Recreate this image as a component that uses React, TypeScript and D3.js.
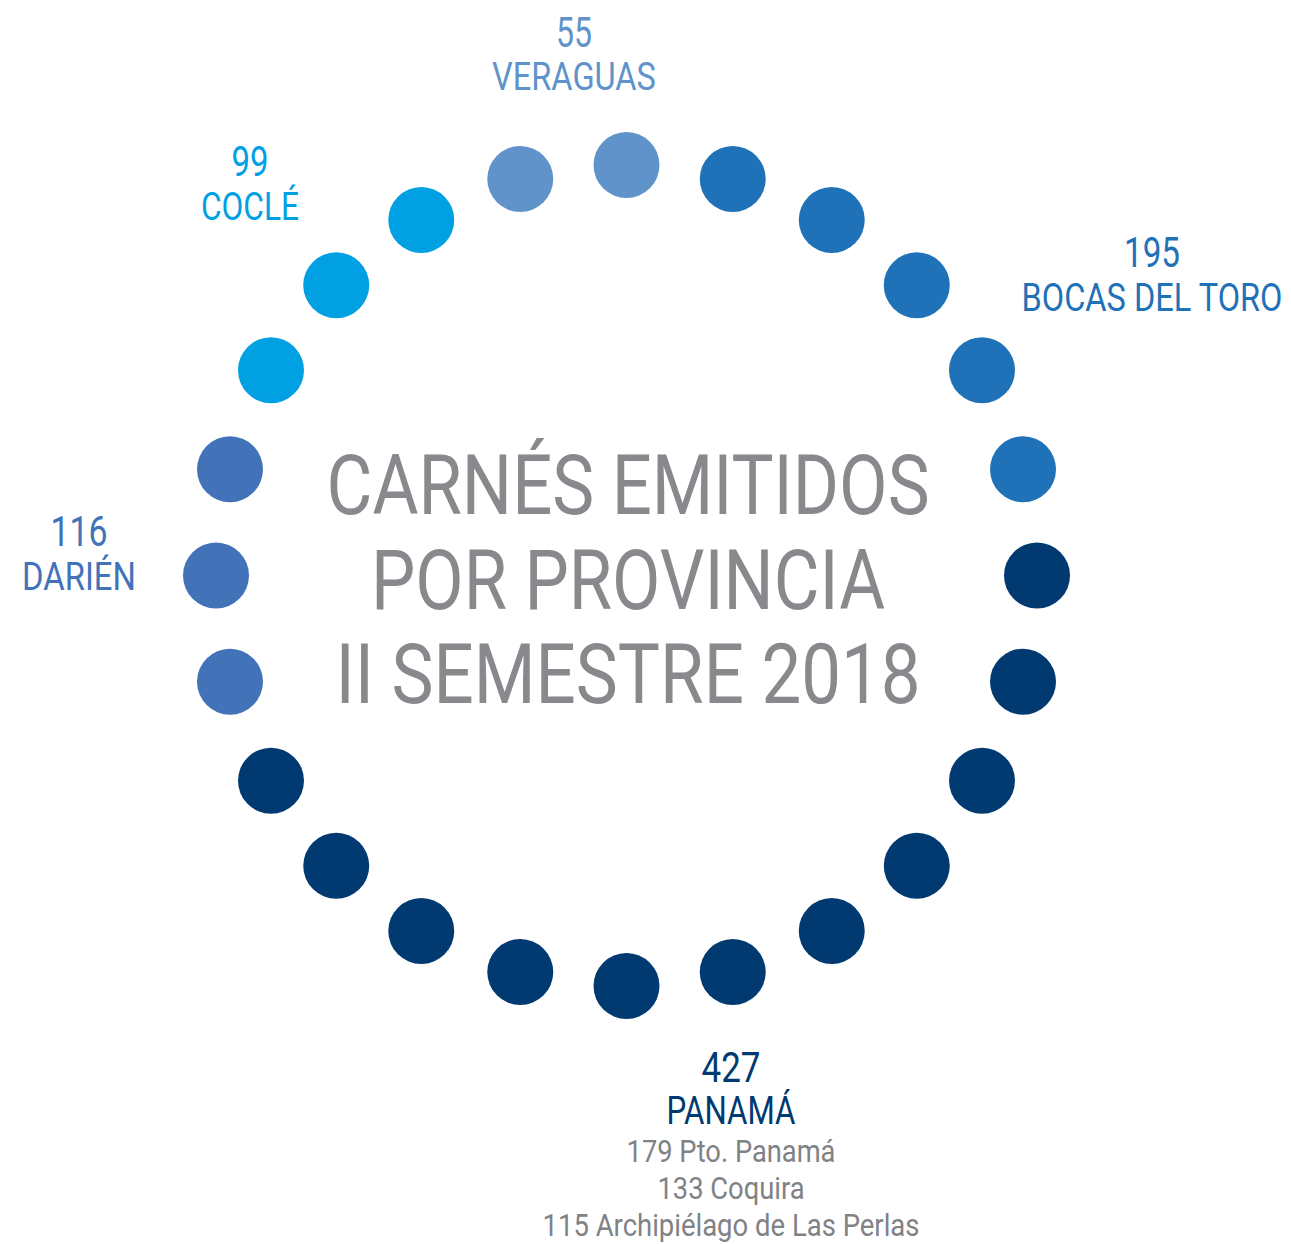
import React, { useLayoutEffect, useRef, useState } from "react";
import * as d3 from "d3";

// ---- data ----
const provinces = ["VERAGUAS", "BOCAS DEL TORO", "PANAMÁ", "DARIÉN", "COCLÉ"];
const values = [55, 195, 427, 116, 99];
const dotCounts = [2, 5, 11, 3, 3];
const colors = ["#6193cb", "#1f71b8", "#003a70", "#4273b8", "#00a0e3"];
const panamaBreakdown = ["179 Pto. Panamá", "133 Coquira", "115 Archipiélago de Las Perlas"];
const titleLines = ["CARNÉS EMITIDOS", "POR PROVINCIA", "II SEMESTRE 2018"];

const W = 1291;
const H = 1244;
const cx = 626.5;
const cy = 575.5;
const R = 410.5;
const dotR = 33;
const FONT = "Roboto, 'Liberation Sans', sans-serif";

type Label = { x: number; yNum: number; yName: number; numW: number; nameW: number };
// label layout per province (same order as provinces)
const labelLayout: Label[] = [
  { x: 574, yNum: 47, yName: 90, numW: 36, nameW: 164 },
  { x: 1152, yNum: 267, yName: 311, numW: 56, nameW: 261 },
  { x: 731, yNum: 1082, yName: 1124, numW: 59, nameW: 129 },
  { x: 79, yNum: 546, yName: 590, numW: 57, nameW: 114 },
  { x: 250, yNum: 176, yName: 220, numW: 37, nameW: 98 },
];
const subW = [209, 147, 377];
const subY = [1162, 1199, 1236];
const titleW = [603, 514, 585];
const titleY = [514, 609, 703];

// Condensed text: horizontally scaled so the rendered width equals `width`.
function CText(props: {
  x: number;
  y: number;
  width: number;
  size: number;
  fill: string;
  children: React.ReactNode;
}) {
  const ref = useRef<SVGTextElement>(null);
  const [sx, setSx] = useState(0.8);
  useLayoutEffect(() => {
    if (ref.current) {
      const len = ref.current.getComputedTextLength();
      if (len > 0) setSx(props.width / len);
    }
  }, [props.width, props.size]);
  return (
    <g transform={`translate(${props.x},${props.y}) scale(${sx},1)`}>
      <text
        ref={ref}
        x={0}
        y={0}
        fontSize={props.size}
        fill={props.fill}
        fontFamily={FONT}
        textAnchor="middle"
      >
        {props.children}
      </text>
    </g>
  );
}

export default function App() {
  const total = d3.sum(dotCounts);
  const dots = provinces.flatMap((p, i) =>
    d3.range(dotCounts[i]).map(() => ({ province: p, color: colors[i] }))
  );
  const angle = d3
    .scaleLinear()
    .domain([0, total])
    .range([-Math.PI / 12, 2 * Math.PI - Math.PI / 12]);

  return (
    <div style={{ position: "absolute", left: 0, top: 0 }}>
      <svg width={W} height={H} style={{ display: "block", background: "#fff" }}>
        <g>
          {dots.map((d, i) => {
            const a = angle(i);
            return (
              <circle
                key={i}
                cx={cx + R * Math.sin(a)}
                cy={cy - R * Math.cos(a)}
                r={dotR}
                fill={d.color}
              />
            );
          })}
        </g>
        {titleLines.map((t, i) => (
          <CText key={t} x={628} y={titleY[i]} width={titleW[i]} size={83} fill="#87898c">
            {t}
          </CText>
        ))}
        {provinces.map((p, i) => {
          const L = labelLayout[i];
          return (
            <g key={p}>
              <CText x={L.x} y={L.yNum} width={L.numW} size={42} fill={colors[i]}>
                {values[i]}
              </CText>
              <CText x={L.x} y={L.yName} width={L.nameW} size={38} fill={colors[i]}>
                {p}
              </CText>
            </g>
          );
        })}
        {panamaBreakdown.map((t, i) => (
          <CText key={t} x={731} y={subY[i]} width={subW[i]} size={31} fill="#808285">
            {t}
          </CText>
        ))}
      </svg>
    </div>
  );
}
